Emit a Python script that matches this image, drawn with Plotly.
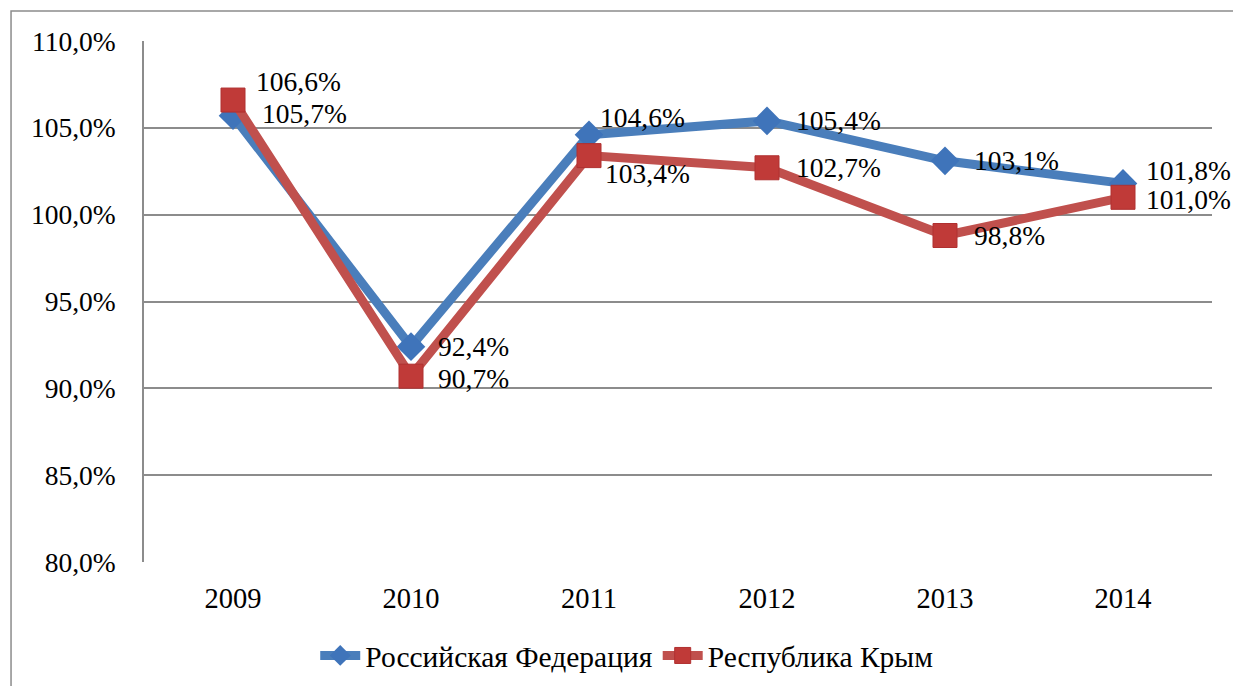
import plotly.graph_objects as go

years = ["2009", "2010", "2011", "2012", "2013", "2014"]
rf_values = [105.7, 92.4, 104.6, 105.4, 103.1, 101.8]
crimea_values = [106.6, 90.7, 103.4, 102.7, 98.8, 101.0]
rf_name = "Российская Федерация"
crimea_name = "Республика Крым"
y_ticks = [80, 85, 90, 95, 100, 105, 110]
y_tick_labels = ["80,0%", "85,0%", "90,0%", "95,0%", "100,0%", "105,0%", "110,0%"]

# label offsets (pixels): (xshift, yshift)
rf_offsets = [(27, 2), (25, 0), (9, 17), (27, 0), (27, 0), (21, 13)]
crimea_offsets = [(21, 19), (25, -2), (14, -18), (27, 0), (27, 0), (21, -2)]

FONT = "'Times New Roman', 'Liberation Serif', 'DejaVu Serif', serif"
FS_LABEL = 27.5
FS_X = 28.5
FS_LEG = 29.5
BLUE = "#4A7EBB"
RED = "#C0504D"

fig = go.Figure()
fig.add_trace(go.Scatter(
    x=years, y=rf_values, name=rf_name, mode="lines+markers",
    line=dict(color=BLUE, width=9),
    marker=dict(symbol="diamond", size=22, color="#3F74BA", line=dict(width=0)),
))
fig.add_trace(go.Scatter(
    x=years, y=crimea_values, name=crimea_name, mode="lines+markers",
    line=dict(color=RED, width=9),
    marker=dict(symbol="square", size=24, color="#C03A38", line=dict(width=1, color="#B03030")),
))

def fmt(v):
    return ("%.1f%%" % v).replace(".", ",")

annotations = []
for vals, offs in ((rf_values, rf_offsets), (crimea_values, crimea_offsets)):
    for i, (v, (dx, dy)) in enumerate(zip(vals, offs)):
        annotations.append(dict(x=i, y=v, xref="x", yref="y", text=fmt(v), showarrow=False,
                                xanchor="left", yanchor="middle", xshift=dx, yshift=dy,
                                font=dict(family=FONT, size=FS_LABEL, color="black")))

fig.update_layout(
    width=1233, height=686,
    margin=dict(l=144, r=21, t=41, b=124, autoexpand=False),
    paper_bgcolor="white", plot_bgcolor="white",
    font=dict(family=FONT, size=FS_LABEL, color="black"),
    showlegend=True,
    annotations=annotations,
    shapes=[dict(type="rect", xref="paper", yref="paper",
                 x0=-0.1245, y0=-0.3, x1=1.05, y1=1.0576,
                 line=dict(color="#8C8C8C", width=1.5), layer="below")],
    legend=dict(orientation="h", x=0.452, xanchor="center", y=-0.18, yanchor="middle",
                font=dict(family=FONT, size=FS_LEG, color="black"),
                itemwidth=40, tracegroupgap=0, bgcolor="rgba(0,0,0,0)"),
    xaxis=dict(type="category", range=[-0.5, 5.5], showgrid=False,
               showline=False, zeroline=False, ticks="", ticklabelstandoff=16,
               tickfont=dict(family=FONT, size=FS_X)),
    yaxis=dict(range=[80, 110], tickvals=y_ticks, ticktext=y_tick_labels,
               showgrid=True, gridcolor="#8C8C8C", gridwidth=1.5,
               showline=True, linecolor="#8C8C8C", linewidth=1.5,
               zeroline=False, ticks="", ticklabelstandoff=21,
               tickfont=dict(family=FONT, size=FS_LABEL)),
)

fig.write_html("out.html", config={"displayModeBar": False},
               post_script="document.body.style.margin='0';document.body.style.overflow='hidden';")
